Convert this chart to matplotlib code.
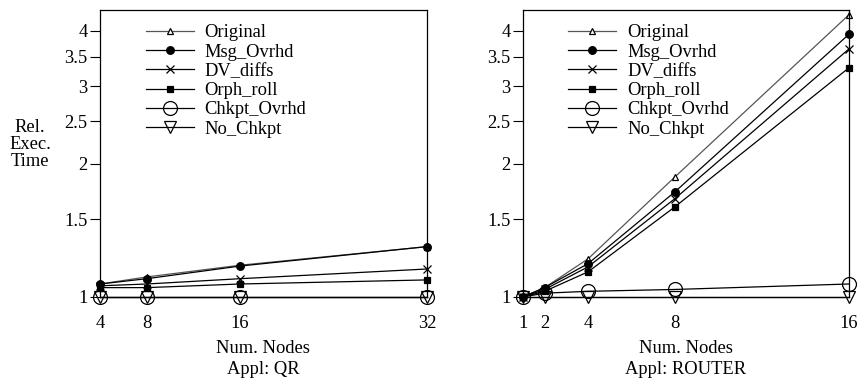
import matplotlib
matplotlib.use("Agg")
import matplotlib.pyplot as plt
from matplotlib.ticker import FixedLocator, NullLocator

plt.rcParams['font.family'] = ['Liberation Serif', 'DejaVu Serif']

series = ["Original", "Msg_Ovrhd", "DV_diffs", "Orph_roll", "Chkpt_Ovrhd", "No_Chkpt"]

qr_nodes = [4, 8, 16, 32]
qr_original = [1.07, 1.11, 1.18, 1.30]
qr_msg = [1.07, 1.10, 1.175, 1.30]
qr_dv = [1.06, 1.07, 1.10, 1.157]
qr_orph = [1.05, 1.05, 1.07, 1.093]
qr_chkpt = [1.0, 1.0, 1.0, 1.0]
qr_nochkpt = [1.0, 1.0, 1.0, 1.0]

rt_nodes = [1, 2, 4, 8, 16]
rt_original = [1.0, 1.05, 1.22, 1.87, 4.35]
rt_msg = [1.0, 1.05, 1.19, 1.73, 3.93]
rt_dv = [1.0, 1.04, 1.17, 1.67, 3.64]
rt_orph = [1.0, 1.03, 1.14, 1.60, 3.30]
rt_chkpt = [1.0, 1.02, 1.03, 1.04, 1.07]
rt_nochkpt = [1.0, 1.0, 1.0, 1.0, 1.0]

yticks = [1, 1.5, 2, 2.5, 3, 3.5, 4]
ytick_labels = ["1", "1.5", "2", "2.5", "3", "3.5", "4"]

styles = [
    dict(marker='^', mfc='white', mec='black', ms=5, color='#555555'),
    dict(marker='o', mfc='black', mec='black', ms=5.5, color='black'),
    dict(marker='x', mec='black', ms=5.5, color='black'),
    dict(marker='s', mfc='black', mec='black', ms=4.5, color='black'),
    dict(marker='o', mfc='none', mec='black', ms=10, color='black'),
    dict(marker='v', mfc='none', mec='black', ms=9, color='black'),
]

FS = 13.3

fig = plt.figure(figsize=(8.6, 3.79), dpi=100)
ax1 = fig.add_axes([0.1163, 0.2164, 0.380, 0.757])
ax2 = fig.add_axes([0.608, 0.2164, 0.379, 0.757])

panels = [
    (ax1, qr_nodes, [qr_original, qr_msg, qr_dv, qr_orph, qr_chkpt, qr_nochkpt], "Appl: QR", (4, 32)),
    (ax2, rt_nodes, [rt_original, rt_msg, rt_dv, rt_orph, rt_chkpt, rt_nochkpt], "Appl: ROUTER", (1, 16)),
]

for ax, xs, ys, title, xl in panels:
    for name, y, st in zip(series, ys, styles):
        ax.plot(xs, y, lw=0.9, label=name, mew=0.9, clip_on=False, **st)
    ax.set_yscale('log')
    ax.set_ylim(1, 4.46)
    ax.set_xlim(*xl)
    ax.yaxis.set_major_locator(FixedLocator(yticks))
    ax.yaxis.set_minor_locator(NullLocator())
    ax.set_yticklabels(ytick_labels)
    ax.set_xticks(xs)
    ax.set_xticklabels([str(v) for v in xs])
    ax.tick_params(axis='y', direction='out', length=7, width=0.8, labelsize=FS, pad=2)
    ax.tick_params(axis='x', length=0, labelsize=FS, pad=13)
    for s in ax.spines.values():
        s.set_linewidth(0.9)
    ax.set_xlabel("Num. Nodes\n" + title, fontsize=FS, labelpad=6, linespacing=1.25)
    ax.legend(loc='upper left', bbox_to_anchor=(0.1, 0.995), frameon=False, fontsize=FS,
              handlelength=2.6, handletextpad=0.6, labelspacing=0.12, borderpad=0.2)

fig.text(0.035, 0.62, "Rel.\nExec.\nTime", ha='center', va='center', fontsize=FS, linespacing=1.0)

fig.savefig("out.png", dpi=100)
